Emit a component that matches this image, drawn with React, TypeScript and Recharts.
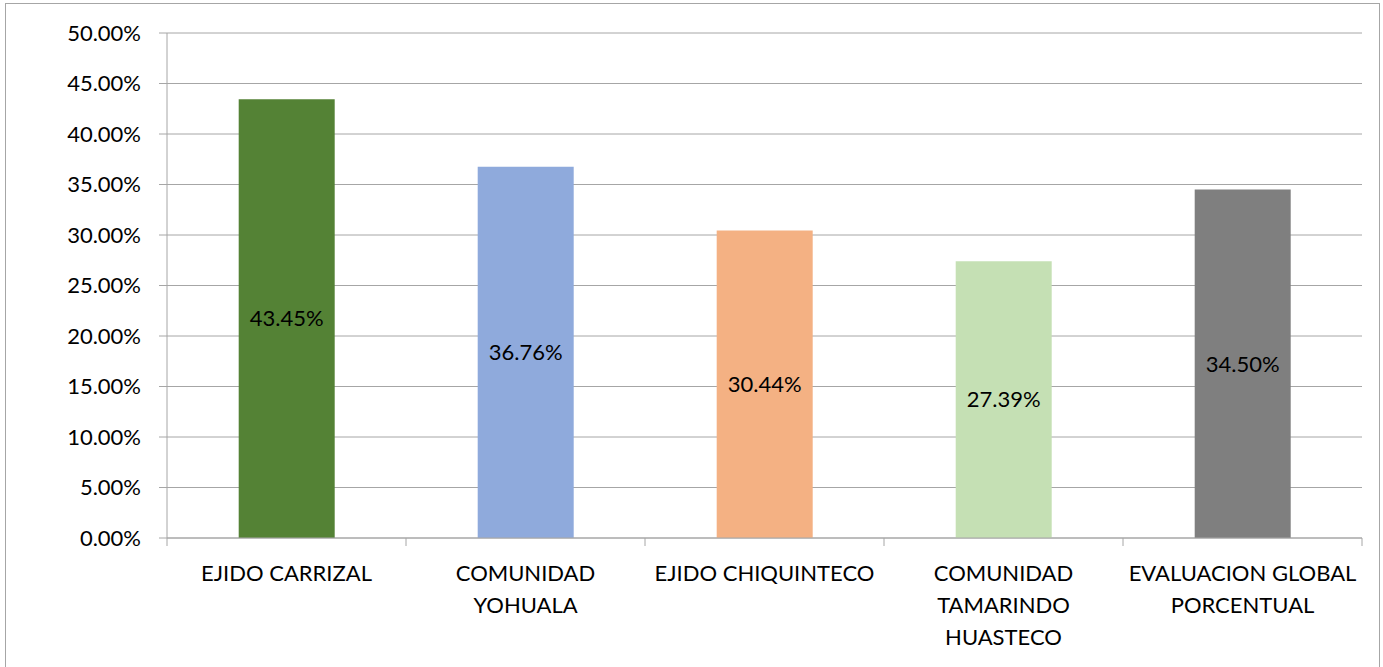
import { Bar, BarChart, CartesianGrid, Cell, LabelList, XAxis, YAxis } from "recharts";

const categories = [
  "EJIDO CARRIZAL",
  "COMUNIDAD\nYOHUALA",
  "EJIDO CHIQUINTECO",
  "COMUNIDAD\nTAMARINDO\nHUASTECO",
  "EVALUACION GLOBAL\nPORCENTUAL",
];
const values = [0.4345, 0.3676, 0.3044, 0.2739, 0.345];
const colors = ["#548235", "#8FAADC", "#F4B183", "#C5E0B4", "#7F7F7F"];
const yTicks = [0, 0.05, 0.1, 0.15, 0.2, 0.25, 0.3, 0.35, 0.4, 0.45, 0.5];

const data = categories.map((name, i) => ({ name, value: values[i] }));

const W = 1383;
const H = 667;
const FONT = "Lato, 'Liberation Sans', sans-serif";
const FS = 22;
const AXIS = "#A6A6A6";
const pct = (v: number) => (v * 100).toFixed(2) + "%";

// Excel-style category tick: label lines + tick marks on category boundaries
function CatTick(props: any) {
  const { x, y, payload, index, visibleTicksCount, width } = props;
  const band = width / (visibleTicksCount || categories.length);
  const lines = String(payload.value).split("\n");
  return (
    <g>
      <line x1={x - band / 2} x2={x - band / 2} y1={y - 8} y2={y} stroke={AXIS} />
      {index === categories.length - 1 && (
        <line x1={x + band / 2} x2={x + band / 2} y1={y - 8} y2={y} stroke={AXIS} />
      )}
      <text x={x} y={y + 35} textAnchor="middle" fontSize={FS} fill="#000" fontFamily={FONT}>
        {lines.map((l, i) => (
          <tspan key={i} x={x} dy={i === 0 ? 0 : 32}>
            {l}
          </tspan>
        ))}
      </text>
    </g>
  );
}

export default function App() {
  return (
    <div style={{ position: "absolute", left: 0, top: 0, width: W, height: H, background: "#fff" }}>
      <div
        style={{
          position: "absolute",
          left: 5,
          top: 3,
          width: W - 8,
          height: H,
          border: "1.5px solid #A6A6A6",
          boxSizing: "border-box",
        }}
      />
      <BarChart
        width={W}
        height={H}
        data={data}
        margin={{ top: 33, right: 21, left: 0, bottom: 0 }}
        barCategoryGap="30%"
      >
        <CartesianGrid vertical={false} stroke={AXIS} strokeWidth={1} />
        <XAxis
          dataKey="name"
          height={129}
          interval={0}
          axisLine={{ stroke: AXIS }}
          tickLine={false}
          tick={<CatTick />}
        />
        <YAxis
          width={167}
          domain={[0, 0.5]}
          ticks={yTicks}
          tickFormatter={pct}
          axisLine={{ stroke: AXIS }}
          tickLine={{ stroke: AXIS }}
          tickSize={8}
          tickMargin={18}
          tick={{ fontSize: FS, fill: "#000", fontFamily: FONT }}
        />
        <Bar dataKey="value" isAnimationActive={false}>
          {data.map((_, i) => (
            <Cell key={i} fill={colors[i]} />
          ))}
          <LabelList
            dataKey="value"
            position="center"
            formatter={(v: any) => pct(Number(v))}
            style={{ fontSize: FS, fill: "#000", fontFamily: FONT }}
          />
        </Bar>
      </BarChart>
    </div>
  );
}
